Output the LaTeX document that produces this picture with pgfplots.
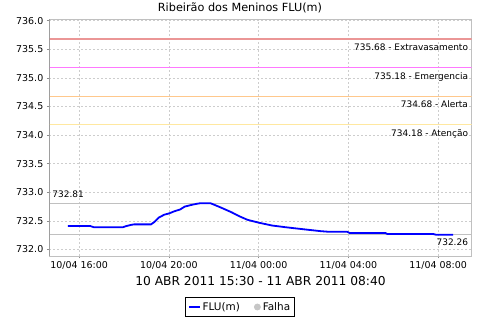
\documentclass[border=0pt]{standalone}
\usepackage{fontspec}
\setmainfont{DejaVu Sans}
\usepackage{pgfplots}
\pgfplotsset{compat=1.18}
\definecolor{cExtr}{RGB}{235,150,150}
\definecolor{cEmer}{RGB}{255,120,255}
\definecolor{cAler}{RGB}{255,200,140}
\definecolor{cAten}{RGB}{255,232,160}
\definecolor{gridc}{RGB}{205,205,205}
\definecolor{refl}{RGB}{192,192,192}
\definecolor{axc}{RGB}{140,140,140}
\begin{document}
\begin{tikzpicture}
\path[use as bounding box] (0,0) rectangle (480bp,320bp);
\begin{axis}[
  at={(49.3bp,64bp)}, anchor=south west,
  scale only axis, width=422.4bp, height=236.7bp,
  xmin=14.667, xmax=33.5, ymin=731.887, ymax=736.025,
  xtick={16,20,24,28,32},
  xticklabels={10/04 16:00,10/04 20:00,11/04 00:00,11/04 04:00,11/04 08:00},
  ytick={732,732.5,733,733.5,734,734.5,735,735.5,736},
  /pgf/number format/assume math mode=true,
  yticklabel style={/pgf/number format/.cd,fixed,fixed zerofill,precision=1,1000 sep={}},
  tick label style={font=\fontsize{9.5}{11}\selectfont},
  xticklabel style={anchor=base, yshift=-9.5bp},
  grid=major,
  grid style={gridc, dash pattern=on 2bp off 2bp, line width=0.5bp},
  axis line style={refl, line width=0.6bp},
  tick align=outside, major tick length=2.5bp,
  xtick pos=bottom, ytick pos=left,
  tick style={axc, line width=0.6bp},
  legend columns=2,
  legend style={at={(0.4515,-0.2155)}, anchor=center, draw=black, line width=0.8bp,
    font=\fontsize{10.5}{13}\selectfont, inner xsep=2bp, inner ysep=3bp,
    /tikz/every even column/.append style={column sep=12bp}},
  legend image code/.code={\draw[#1] (0bp,0bp) -- (11bp,0bp);},
]
\addplot[draw=cExtr, line width=1.2bp, forget plot] coordinates {(14.667,735.68) (33.5,735.68)};
\addplot[draw=cEmer, line width=1.2bp, forget plot] coordinates {(14.667,735.18) (33.5,735.18)};
\addplot[draw=cAler, line width=1.2bp, forget plot] coordinates {(14.667,734.68) (33.5,734.68)};
\addplot[draw=cAten, line width=1.2bp, forget plot] coordinates {(14.667,734.18) (33.5,734.18)};
\addplot[draw=refl, line width=0.8bp, forget plot] coordinates {(14.667,732.81) (33.5,732.81)};
\addplot[draw=refl, line width=0.8bp, forget plot] coordinates {(14.667,732.26) (33.5,732.26)};
\addplot[blue, line width=1.8bp] coordinates {
(15.50,732.41) (16.50,732.41) (16.65,732.39) (17.95,732.39) (18.10,732.41)
(18.30,732.43) (18.45,732.44) (19.20,732.44) (19.35,732.48) (19.55,732.56)
(19.80,732.61) (20.00,732.63) (20.25,732.67) (20.50,732.70) (20.70,732.75)
(21.00,732.78) (21.25,732.80) (21.40,732.81) (21.85,732.81) (22.10,732.77)
(22.40,732.72) (22.80,732.65) (23.15,732.58) (23.50,732.52) (24.00,732.47)
(24.60,732.42) (25.20,732.39) (26.10,732.35) (26.80,732.32) (27.15,732.31)
(27.95,732.31) (28.05,732.29) (29.65,732.29) (29.75,732.27) (31.80,732.27)
(31.90,732.26) (32.67,732.26)};
\addlegendentry{FLU(m)}
\addlegendimage{legend image code/.code={\fill[gray!45] (5bp,0bp) circle (3bp);}}
\addlegendentry{Falha}
\draw[axc, line width=0.8bp] (rel axis cs:0,0) -- (rel axis cs:0,1);
\draw[axc, line width=0.8bp] (rel axis cs:0,0) -- (rel axis cs:1,0);
\begin{scope}[every node/.style={font=\fontsize{9}{10}\selectfont, inner sep=0pt}]
\node[anchor=base east] at (axis cs:33.5,735.68) [xshift=-3.5bp, yshift=-11.7bp] {735.68 - Extravasamento};
\node[anchor=base east] at (axis cs:33.5,735.18) [xshift=-3.5bp, yshift=-11.7bp] {735.18 - Emergencia};
\node[anchor=base east] at (axis cs:33.5,734.68) [xshift=-3.5bp, yshift=-11.7bp] {734.68 - Alerta};
\node[anchor=base east] at (axis cs:33.5,734.18) [xshift=-3.5bp, yshift=-11.7bp] {734.18 - Atenção};
\node[anchor=base west] at (axis cs:14.667,732.81) [xshift=3bp, yshift=5.3bp] {732.81};
\node[anchor=base east] at (axis cs:33.5,732.26) [xshift=-3.5bp, yshift=-11.3bp] {732.26};
\end{scope}
\end{axis}
\node[anchor=base, font=\fontsize{11.3}{13}\selectfont, inner sep=0pt] at (240bp,308.3bp) {Ribeirão dos Meninos FLU(m)};
\node[anchor=base, font=\fontsize{12.3}{14}\selectfont, inner sep=0pt] at (260.5bp,34.3bp) {10 ABR 2011 15:30 - 11 ABR 2011 08:40};
\end{tikzpicture}
\end{document}
